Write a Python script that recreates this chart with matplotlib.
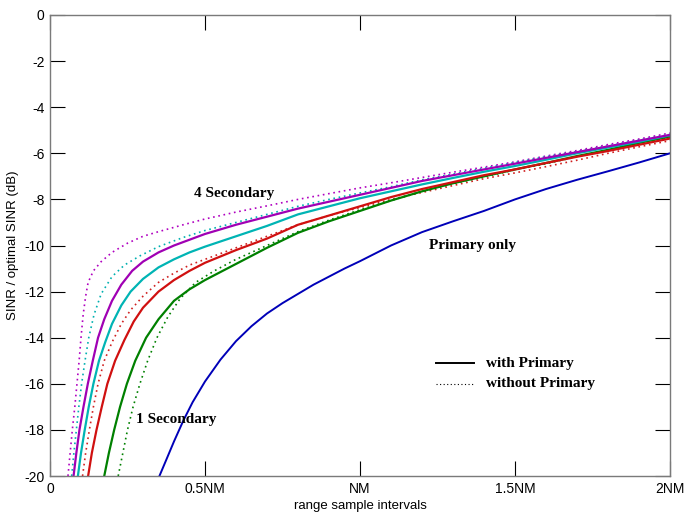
import matplotlib
matplotlib.use("Agg")
import matplotlib.pyplot as plt

plt.rcParams['axes.unicode_minus'] = False

# x in units of NM (range sample intervals), y in dB
blue_x = [0.353, 0.375, 0.4, 0.43, 0.46, 0.5, 0.55, 0.6, 0.65, 0.7, 0.75, 0.8, 0.85, 0.9, 0.95,
          1.0, 1.1, 1.2, 1.3, 1.4, 1.5, 1.6, 1.7, 1.8, 1.9, 2.0]
blue_y = [-20.0, -19.3, -18.5, -17.6, -16.8, -15.9, -14.95, -14.15, -13.5, -12.95, -12.5, -12.1, -11.7,
          -11.35, -11.0, -10.68, -10.0, -9.42, -8.95, -8.5, -8.0, -7.55, -7.15, -6.78, -6.4, -6.0]

# 1 secondary
green_x = [0.175, 0.19, 0.207, 0.226, 0.248, 0.275, 0.31, 0.35, 0.4, 0.45, 0.5, 0.6, 0.7, 0.8, 0.9,
           1.0, 1.1, 1.2, 1.3, 1.4, 1.5, 1.6, 1.7, 1.8, 1.9, 2.0]
green_y = [-20.0, -19.0, -18.0, -17.0, -16.0, -15.0, -14.0, -13.2, -12.4, -11.9, -11.5, -10.8, -10.1,
           -9.45, -8.95, -8.5, -8.05, -7.65, -7.3, -7.0, -6.7, -6.42, -6.12, -5.85, -5.55, -5.27]
green_dot_x = [0.22, 0.235, 0.25, 0.268, 0.29, 0.315, 0.345, 0.38, 0.42, 0.47, 0.53, 0.6, 0.7, 0.8, 0.9,
               1.0, 1.1, 1.2, 1.3, 1.4, 1.5, 1.6, 1.7, 1.8, 1.9, 2.0]
green_dot_y = [-20.0, -19.0, -18.0, -17.0, -16.0, -15.0, -14.0, -13.1, -12.3, -11.6, -11.1, -10.6, -10.0,
               -9.4, -8.9, -8.45, -8.05, -7.65, -7.32, -7.02, -6.72, -6.45, -6.15, -5.88, -5.6, -5.3]

# 2 secondary
red_x = [0.123, 0.135, 0.15, 0.167, 0.185, 0.21, 0.24, 0.27, 0.3, 0.35, 0.4, 0.45, 0.5, 0.6, 0.7, 0.8,
         0.9, 1.0, 1.1, 1.2, 1.3, 1.4, 1.5, 1.6, 1.7, 1.8, 1.9, 2.0]
red_y = [-20.0, -19.0, -18.0, -17.0, -16.0, -15.0, -14.1, -13.3, -12.7, -12.0, -11.5, -11.1, -10.75,
         -10.2, -9.7, -9.1, -8.7, -8.3, -7.9, -7.55, -7.25, -6.95, -6.7, -6.42, -6.15, -5.9, -5.63, -5.36]
red_dot_x = [0.105, 0.115, 0.127, 0.14, 0.155, 0.175, 0.2, 0.23, 0.26, 0.3, 0.35, 0.4, 0.45, 0.5, 0.6,
             0.7, 0.8, 0.9, 1.0, 1.1, 1.2, 1.3, 1.4, 1.5, 1.6, 1.7, 1.8, 1.9, 2.0]
red_dot_y = [-20.0, -19.0, -18.0, -17.0, -16.0, -15.0, -14.2, -13.4, -12.8, -12.2, -11.6, -11.2, -10.85,
             -10.6, -10.1, -9.6, -9.1, -8.7, -8.35, -8.0, -7.7, -7.4, -7.1, -6.85, -6.58, -6.3, -6.0,
             -5.72, -5.45]

# 3 secondary
cyan_x = [0.09, 0.1, 0.112, 0.125, 0.14, 0.158, 0.178, 0.2, 0.23, 0.26, 0.3, 0.35, 0.4, 0.45, 0.5, 0.6,
          0.7, 0.8, 0.9, 1.0, 1.1, 1.2, 1.3, 1.4, 1.5, 1.6, 1.7, 1.8, 1.9, 2.0]
cyan_y = [-20.0, -19.0, -18.0, -17.0, -16.0, -15.0, -14.2, -13.4, -12.6, -12.0, -11.45, -10.95, -10.6,
          -10.3, -10.05, -9.6, -9.15, -8.65, -8.3, -7.95, -7.65, -7.35, -7.07, -6.8, -6.55, -6.28, -6.0,
          -5.75, -5.5, -5.22]
cyan_dot_x = [0.07, 0.077, 0.085, 0.093, 0.102, 0.113, 0.125, 0.142, 0.165, 0.2, 0.24, 0.29, 0.35, 0.43,
              0.5, 0.6, 0.7, 0.8, 0.9, 1.0, 1.1, 1.2, 1.3, 1.4, 1.5, 1.6, 1.7, 1.8, 1.9, 2.0]
cyan_dot_y = [-20.0, -19.0, -18.0, -17.0, -16.0, -15.0, -14.0, -13.0, -12.1, -11.35, -10.85, -10.45,
              -10.05, -9.65, -9.35, -9.0, -8.65, -8.3, -8.0, -7.72, -7.45, -7.15, -6.9, -6.65, -6.4,
              -6.15, -5.92, -5.68, -5.43, -5.18]

# 4 secondary
mag_x = [0.076, 0.085, 0.095, 0.108, 0.122, 0.138, 0.155, 0.175, 0.2, 0.23, 0.265, 0.3, 0.35, 0.4, 0.45,
         0.5, 0.6, 0.7, 0.8, 0.9, 1.0, 1.1, 1.2, 1.3, 1.4, 1.5, 1.6, 1.7, 1.8, 1.9, 2.0]
mag_y = [-20.0, -19.0, -18.0, -17.0, -16.0, -15.0, -14.0, -13.2, -12.4, -11.7, -11.1, -10.7, -10.3,
         -10.0, -9.75, -9.5, -9.1, -8.75, -8.4, -8.1, -7.8, -7.5, -7.2, -6.95, -6.7, -6.45, -6.2, -5.95,
         -5.7, -5.45, -5.2]
mag_dot_x = [0.058, 0.065, 0.072, 0.08, 0.087, 0.094, 0.1, 0.107, 0.115, 0.123, 0.14, 0.165, 0.2, 0.25,
             0.3, 0.35, 0.43, 0.5, 0.6, 0.7, 0.8, 0.9, 1.0, 1.1, 1.2, 1.3, 1.4, 1.5, 1.6, 1.7, 1.8, 1.9, 2.0]
mag_dot_y = [-20.0, -19.0, -18.0, -17.0, -16.0, -15.0, -14.0, -13.0, -12.2, -11.6, -11.1, -10.7, -10.3,
             -9.9, -9.6, -9.4, -9.1, -8.85, -8.55, -8.28, -8.0, -7.75, -7.5, -7.28, -7.05, -6.82, -6.6,
             -6.37, -6.12, -5.88, -5.62, -5.38, -5.12]

xticks = [0, 0.5, 1, 1.5, 2]
xtick_labels = ['0', '0.5NM', 'NM', '1.5NM', '2NM']
yticks = list(range(-20, 1, 2))

fig = plt.figure(figsize=(6.97, 5.13), dpi=100)
ax = fig.add_axes([50 / 697, 1 - 476 / 513, 620 / 697, 461 / 513])

dot = (0, (1, 2.2))
ax.plot(mag_dot_x, mag_dot_y, color='#b000c0', linestyle=dot, linewidth=1.2)
ax.plot(cyan_dot_x, cyan_dot_y, color='#00b0b0', linestyle=dot, linewidth=1.2)
ax.plot(red_dot_x, red_dot_y, color='#d02020', linestyle=dot, linewidth=1.2)
ax.plot(green_dot_x, green_dot_y, color='#008000', linestyle=dot, linewidth=1.2)

ax.plot(blue_x, blue_y, color='#0000b8', linewidth=1.4)
ax.plot(green_x, green_y, color='#008000', linewidth=1.6)
ax.plot(red_x, red_y, color='#d01010', linewidth=1.6)
ax.plot(cyan_x, cyan_y, color='#00b4b4', linewidth=1.6)
ax.plot(mag_x, mag_y, color='#a000b4', linewidth=1.6)

ax.set_xlim(0, 2)
ax.set_ylim(-20, 0)
ax.set_xticks(xticks)
ax.set_xticklabels(xtick_labels)
ax.set_yticks(yticks)

for s in ax.spines.values():
    s.set_color('#7a7a7a')
    s.set_linewidth(1.0)
ax.tick_params(direction='in', length=11, width=0.8, top=True, right=True,
               labelsize=10, colors='black', pad=4)
for lab in ax.get_xticklabels() + ax.get_yticklabels():
    lab.set_family('Liberation Sans')

ax.set_xlabel('range sample intervals', family='Liberation Sans', fontsize=9.5, labelpad=2)
ax.set_ylabel('SINR / optimal SINR (dB)', family='Liberation Sans', fontsize=9.5, labelpad=4)
ax.xaxis.set_label_coords(0.5, -0.052)

serif = dict(family='Liberation Serif', fontweight='bold', fontsize=11)
ax.text(0.465, -7.75, '4 Secondary', ha='left', va='center', **serif)
ax.text(1.223, -10.0, 'Primary only', ha='left', va='center', **serif)
ax.text(0.278, -17.55, '1 Secondary', ha='left', va='center', **serif)

# legend drawn by hand like the original
ax.plot([1.246, 1.369], [-15.1, -15.1], color='black', linewidth=1.4)
ax.plot([1.246, 1.369], [-16.0, -16.0], color='black', linestyle=dot, linewidth=0.8)
ax.text(1.405, -15.1, 'with Primary', ha='left', va='center', **serif)
ax.text(1.405, -16.0, 'without Primary', ha='left', va='center', **serif)

fig.savefig('out.png', dpi=100)
